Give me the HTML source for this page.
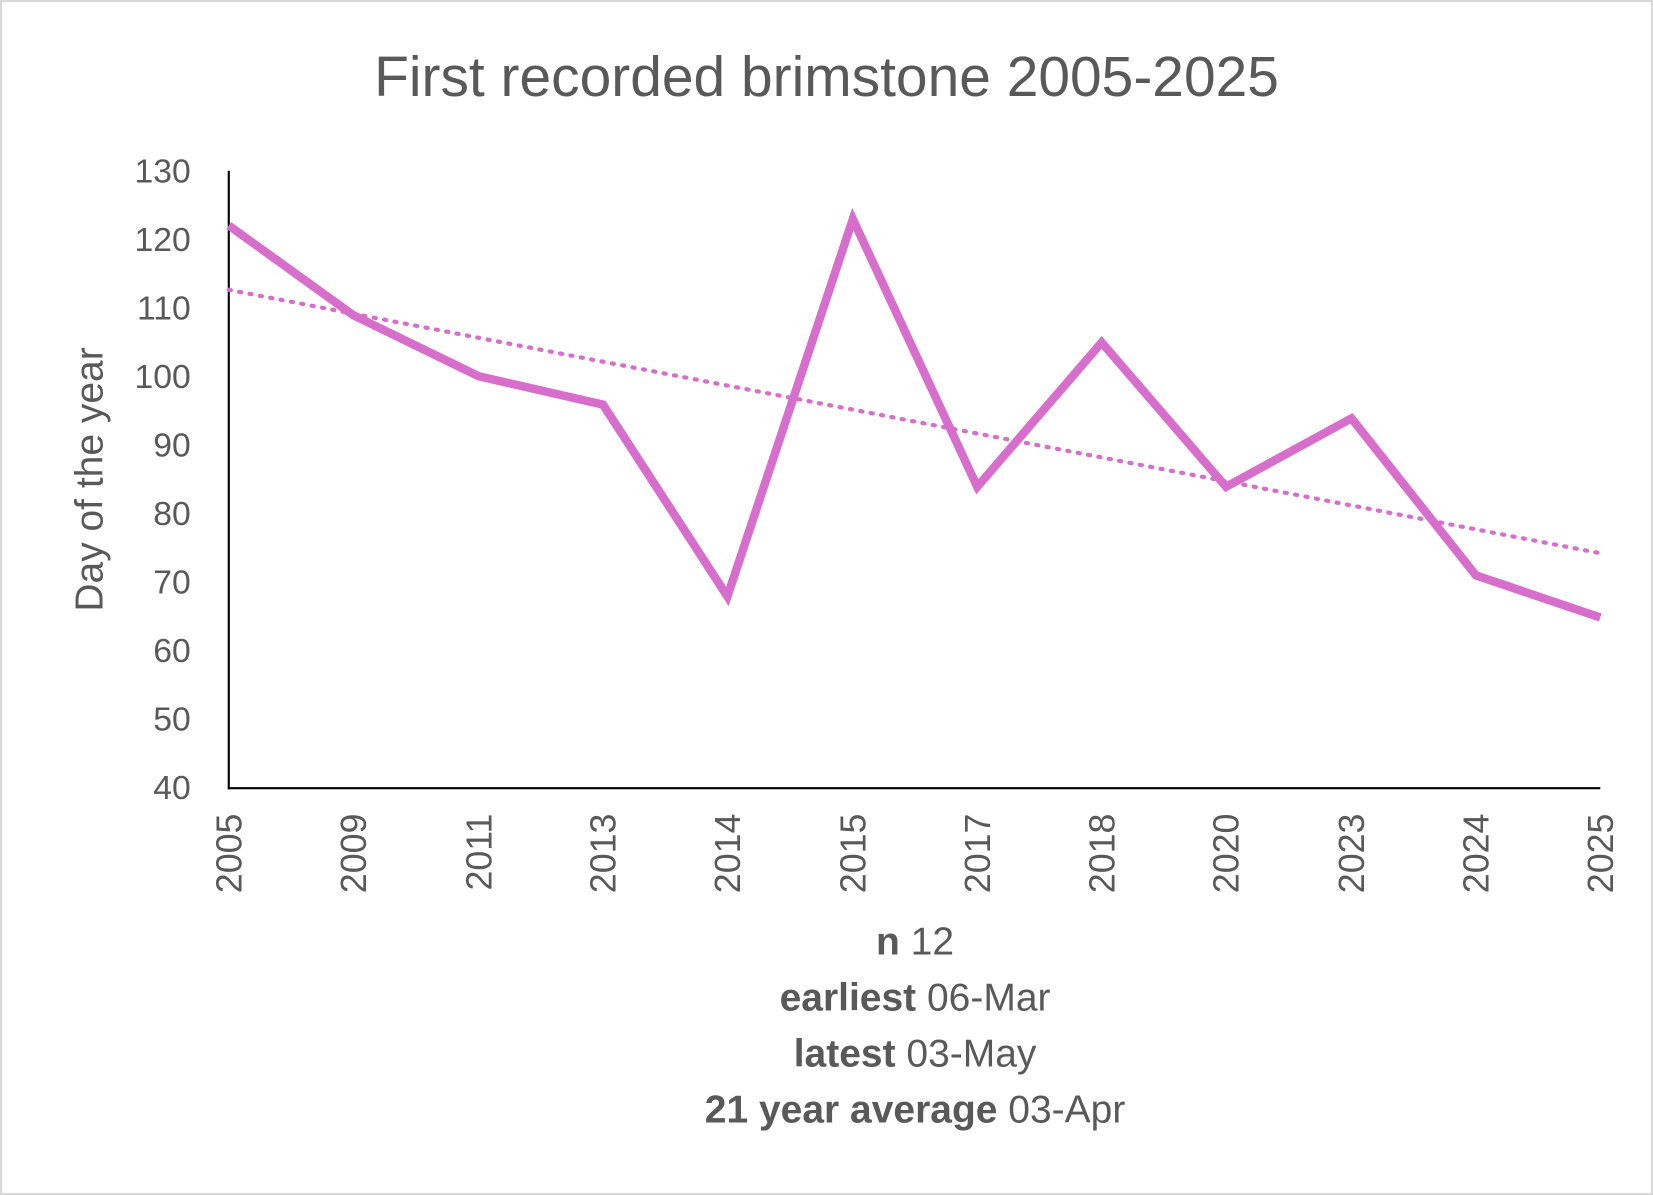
<!DOCTYPE html>
<html><head><meta charset="utf-8"><style>html,body{margin:0;padding:0;background:#fff}svg{display:block}</style></head>
<body>
<svg width="1653" height="1195" viewBox="0 0 1568 1134" preserveAspectRatio="none" xmlns="http://www.w3.org/2000/svg" font-family="'Liberation Sans', sans-serif" fill="#595959">
<rect x="1" y="1" width="1566" height="1132" fill="#fff" stroke="#d9d9d9" stroke-width="2"/>
<text x="784" y="91" font-size="54" text-anchor="middle">First recorded brimstone 2005-2025</text>
<g font-size="32" text-anchor="end">
<text x="181" y="173">130</text><text x="181" y="238">120</text><text x="181" y="303">110</text>
<text x="181" y="368">100</text><text x="181" y="433">90</text><text x="181" y="498">80</text>
<text x="181" y="563">70</text><text x="181" y="628">60</text><text x="181" y="693">50</text><text x="181" y="758">40</text>
</g>
<text transform="translate(97,455) rotate(-90)" font-size="37" text-anchor="middle">Day of the year</text>
<line x1="217" y1="162" x2="217" y2="749" stroke="#000" stroke-width="2"/>
<line x1="216" y1="748" x2="1518" y2="748" stroke="#000" stroke-width="2"/>
<g font-size="34" text-anchor="end">
<text transform="translate(229,772) rotate(-90)">2005</text>
<text transform="translate(347,772) rotate(-90)">2009</text>
<text transform="translate(466,772) rotate(-90)">2011</text>
<text transform="translate(584,772) rotate(-90)">2013</text>
<text transform="translate(702,772) rotate(-90)">2014</text>
<text transform="translate(821,772) rotate(-90)">2015</text>
<text transform="translate(939,772) rotate(-90)">2017</text>
<text transform="translate(1057,772) rotate(-90)">2018</text>
<text transform="translate(1175,772) rotate(-90)">2020</text>
<text transform="translate(1294,772) rotate(-90)">2023</text>
<text transform="translate(1412,772) rotate(-90)">2024</text>
<text transform="translate(1530,772) rotate(-90)">2025</text>
</g>
<line x1="217" y1="275" x2="1518" y2="525" stroke="#d86ecc" stroke-width="4" stroke-dasharray="2,8" stroke-linecap="round"/>
<polyline fill="none" stroke="#d86ecc" stroke-width="8" stroke-linejoin="miter" points="217,214 335,299 454,357 572,384 690,566 809,208 927,462 1045,325 1163,462 1282,397 1400,546 1518,586"/>
<g font-size="37" text-anchor="middle">
<text x="868" y="906"><tspan font-weight="bold">n</tspan> 12</text>
<text x="868" y="959"><tspan font-weight="bold">earliest</tspan> 06-Mar</text>
<text x="868" y="1012"><tspan font-weight="bold">latest</tspan> 03-May</text>
<text x="868" y="1065"><tspan font-weight="bold">21 year average</tspan> 03-Apr</text>
</g>
</svg>
</body></html>
